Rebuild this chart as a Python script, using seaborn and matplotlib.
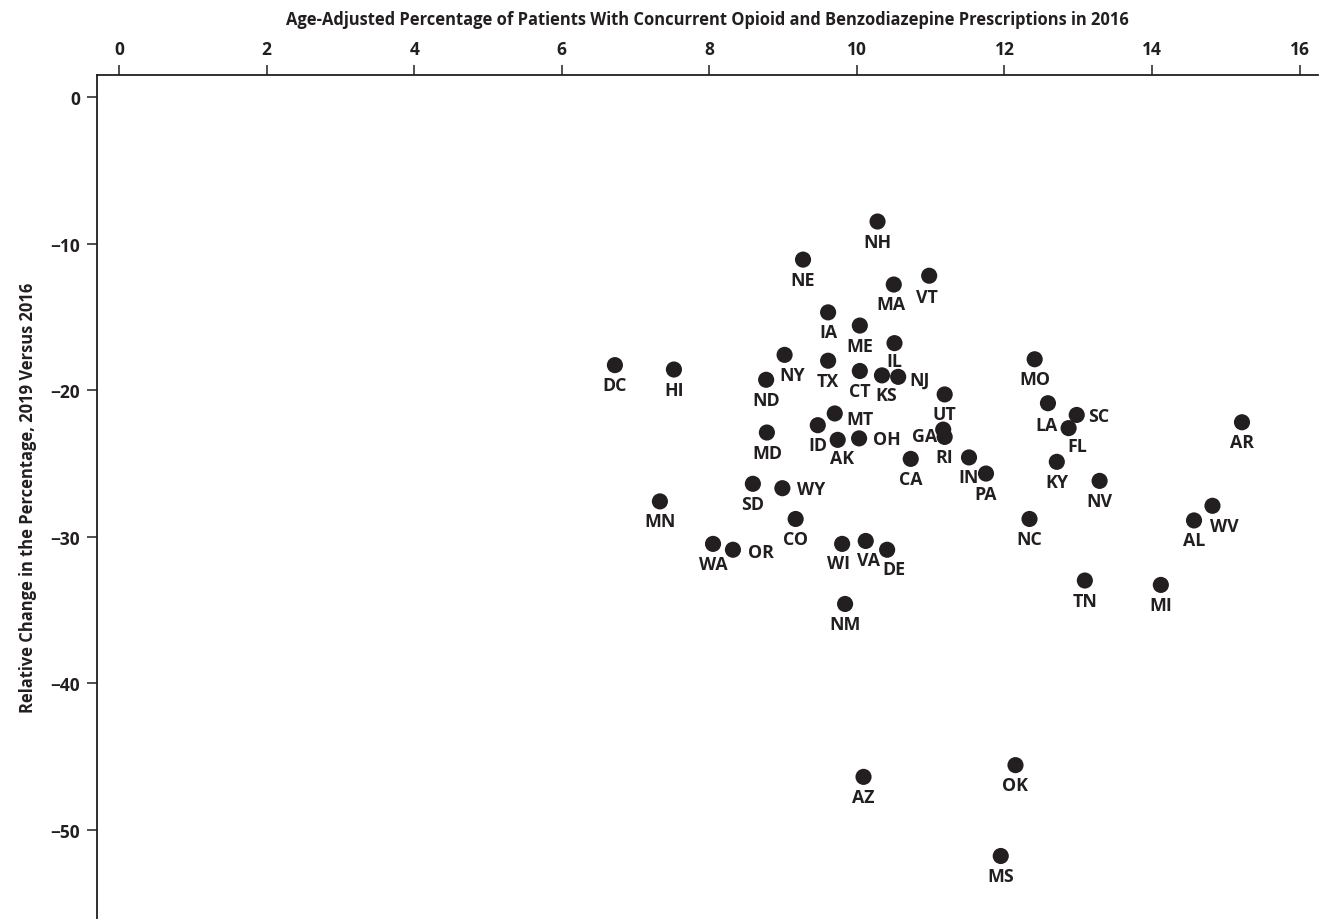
import seaborn as sns
import matplotlib.pyplot as plt
import pandas as pd

states = ["NH", "NE", "VT", "MA", "IA", "ME", "IL", "MO", "NY", "TX",
          "DC", "HI", "CT", "KS", "NJ", "ND", "UT", "LA", "SC", "MT",
          "AR", "ID", "FL", "MD", "GA", "RI", "AK", "OH", "IN", "CA",
          "KY", "PA", "NV", "SD", "WY", "MN", "WV", "CO", "NC", "AL",
          "WA", "VA", "WI", "OR", "DE", "TN", "MI", "NM", "OK", "AZ", "MS"]
pct_2016 = [10.28, 9.27, 10.98, 10.50, 9.61, 10.04, 10.51, 12.41, 9.02, 9.61,
            6.72, 7.52, 10.04, 10.34, 10.56, 8.77, 11.19, 12.59, 12.98, 9.70,
            15.22, 9.47, 12.87, 8.78, 11.17, 11.19, 9.74, 10.03, 11.52, 10.73,
            12.71, 11.75, 13.29, 8.59, 8.99, 7.33, 14.82, 9.17, 12.34, 14.57,
            8.05, 10.12, 9.80, 8.32, 10.41, 13.09, 14.12, 9.84, 12.15, 10.09, 11.95]
rel_change = [-8.5, -11.1, -12.2, -12.8, -14.7, -15.6, -16.8, -17.9, -17.6, -18.0,
              -18.3, -18.6, -18.7, -19.0, -19.1, -19.3, -20.3, -20.9, -21.7, -21.6,
              -22.2, -22.4, -22.6, -22.9, -22.7, -23.2, -23.4, -23.3, -24.6, -24.7,
              -24.9, -25.7, -26.2, -26.4, -26.7, -27.6, -27.9, -28.8, -28.8, -28.9,
              -30.5, -30.3, -30.5, -30.9, -30.9, -33.0, -33.3, -34.6, -45.6, -46.4, -51.8]

df = pd.DataFrame({"state": states, "pct": pct_2016, "change": rel_change})

# label placement (pixel offsets from the dot); default is centred below
label_offsets = {
    "NY": (8, -20), "KS": (4, -20), "NJ": (21, -3), "SC": (22, -1),
    "MT": (25, -6), "FL": (9, -18), "GA": (-19, -6), "AK": (4, -18),
    "OH": (28, -1), "WY": (29, -1), "WV": (12, -20), "OR": (28, -2),
    "DE": (7, -19), "VT": (-2, -21), "MA": (-3, -19), "LA": (-1, -22),
    "IL": (0, -18), "WI": (-4, -19), "VA": (3, -19),
}

sns.set_style("white")
plt.rcParams["font.family"] = ["Open Sans", "DejaVu Sans"]
ink = "#231f20"

fig = plt.figure(figsize=(13.29, 9.2), dpi=100)
ax = fig.add_axes([0.073, 0.0, 0.9187, 0.9174])

sns.scatterplot(data=df, x="pct", y="change", ax=ax, s=135, color=ink,
                edgecolor="none", legend=False)

for _, row in df.iterrows():
    dx, dy = label_offsets.get(row["state"], (0, -20))
    ax.annotate(row["state"], (row["pct"], row["change"]),
                xytext=(dx * 0.72, dy * 0.72), textcoords="offset points",
                ha="center", va="center", fontsize=12.8, fontweight="bold",
                color=ink)

ax.set_xlim(-0.3, 16.25)
ax.set_ylim(-56.1, 1.5)
ax.set_xticks(range(0, 17, 2))
ax.set_yticks(range(-50, 1, 10))

ax.xaxis.tick_top()
ax.xaxis.set_label_position("top")
ax.set_xlabel("Age-Adjusted Percentage of Patients With Concurrent Opioid and Benzodiazepine Prescriptions in 2016",
              fontsize=11.9, fontweight="bold", color=ink, labelpad=12)
ax.set_ylabel("Relative Change in the Percentage, 2019 Versus 2016",
              fontsize=11.9, fontweight="bold", color=ink, labelpad=10)

for side in ["right", "bottom"]:
    ax.spines[side].set_visible(False)
for side in ["left", "top"]:
    ax.spines[side].set_color(ink)
    ax.spines[side].set_linewidth(1.3)

ax.tick_params(axis="both", direction="out", length=7, width=1.1, color=ink,
               labelsize=12.5, labelcolor=ink, pad=5)
ax.tick_params(axis="x", top=True, bottom=False)
ax.tick_params(axis="y", left=True)
for lbl in ax.get_xticklabels() + ax.get_yticklabels():
    lbl.set_fontweight("bold")

fig.savefig("out.png", dpi=100)
